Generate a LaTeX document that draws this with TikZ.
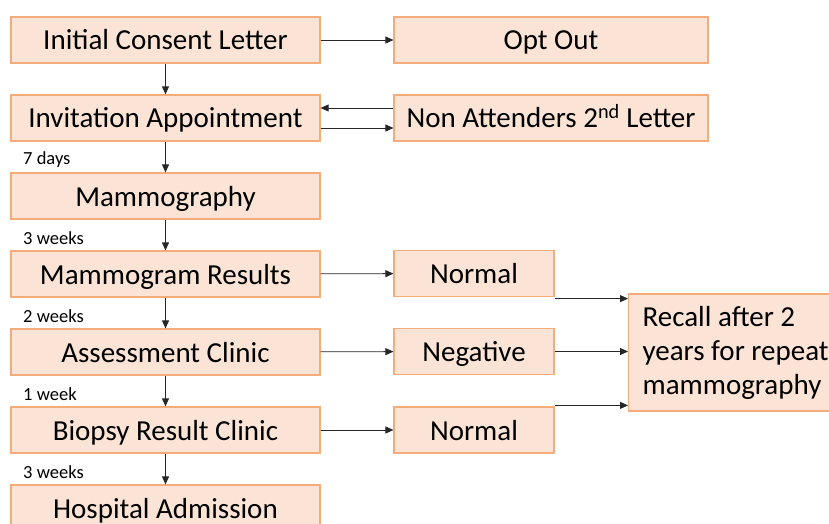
\documentclass[tikz,border=0pt]{standalone}
\usepackage{fontspec}
\setmainfont{Carlito}
\usetikzlibrary{arrows.meta}
\definecolor{boxfill}{RGB}{251,228,213}
\definecolor{boxline}{RGB}{246,172,122}
\begin{document}
\begin{tikzpicture}[x=1pt, y=-1pt,
    box/.style={draw=boxline, fill=boxfill, line width=1.2pt, minimum height=46pt,
      inner sep=0pt, text height=24pt, text depth=4pt, font=\fontsize{29}{34}\selectfont},
    wide/.style={box, minimum width=309pt},
    small/.style={box, minimum width=160pt},
    lbl/.style={anchor=west, inner sep=0pt, font=\fontsize{18.5}{20}\selectfont},
    arr/.style={draw=black!85, line width=0.8pt, -{Triangle[length=8pt,width=7pt]}}]
  \clip (0,0) rectangle (829,524);

  % left column
  \node[wide] (consent)  at (165.5,40)  {Initial Consent Letter};
  \node[wide] (invite)   at (165.5,118) {Invitation Appointment};
  \node[wide] (mammo)    at (165.5,196) {Mammography};
  \node[wide] (results)  at (165.5,274) {Mammogram Results};
  \node[wide] (assess)   at (165.5,352) {Assessment Clinic};
  \node[wide] (biopsy)   at (165.5,430) {Biopsy Result Clinic};
  \node[wide] (hospital) at (165.5,508) {Hospital Admission};

  % right side
  \node[box, minimum width=314pt] (optout) at (551,40)  {Opt Out};
  \node[box, minimum width=314pt] (nonatt) at (551,118) {Non Attenders 2\textsuperscript{nd} Letter};
  \node[small] (normA)    at (474,273.5) {Normal};
  \node[small] (negative) at (474,351.5) {Negative};
  \node[small] (normB)    at (474,430)   {Normal};
  \node[box, anchor=west, minimum width=220pt, minimum height=117pt, text width=200pt,
    text height=, text depth=, align=flush left, inner xsep=14pt] (recall) at (628,352.5)
    {Recall after 2\\years for repeat\\mammography};

  % waiting times
  \node[lbl] (t1) at (23,160) {7 days};
  \node[lbl] (t2) at (23,238) {3 weeks};
  \node[lbl] (t3) at (23,316) {2 weeks};
  \node[lbl] (t4) at (23,394) {1 week};
  \node[lbl] (t5) at (23,472) {3 weeks};

  % connectors
  \draw[arr] (consent) -- (optout);
  \draw[arr] ([yshift=10pt]nonatt.west) -- ([yshift=10pt]invite.east);
  \draw[arr] ([yshift=-10pt]invite.east) -- ([yshift=-10pt]nonatt.west);
  \draw[arr] (consent) -- (invite);
  \draw[arr] (invite) -- (mammo);
  \draw[arr] (mammo) -- (results);
  \draw[arr] (results) -- (assess);
  \draw[arr] (assess) -- (biopsy);
  \draw[arr] (biopsy) -- (hospital);
  \draw[arr] (results) -- (normA);
  \draw[arr] (assess) -- (negative);
  \draw[arr] (biopsy) -- (normB);
  \draw[arr] ([yshift=-1.5pt]normA.south east) -- ([yshift=-1.5pt]normA.south east -| recall.west);
  \draw[arr] (negative) -- (negative -| recall.west);
  \draw[arr] ([yshift=1pt]normB.north east) -- ([yshift=1pt]normB.north east -| recall.west);
\end{tikzpicture}
\end{document}
